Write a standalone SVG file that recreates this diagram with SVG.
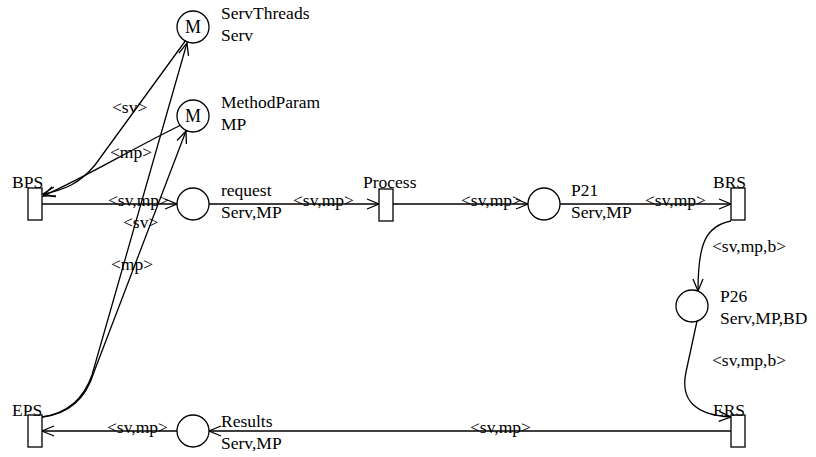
<svg xmlns="http://www.w3.org/2000/svg" width="816" height="457" viewBox="0 0 816 457">
<style>
text{font-family:"Liberation Serif","Times New Roman",serif;font-size:17.5px;fill:#000}
.m{text-anchor:middle;font-size:18px}
circle,rect{fill:#fff;stroke:#000;stroke-width:1.3}
.c path{fill:none;stroke:#000;stroke-width:1.3;marker-end:url(#a)}
</style>
<defs>
<marker id="a" markerWidth="14" markerHeight="12" refX="13" refY="6" orient="auto" markerUnits="userSpaceOnUse">
<path d="M1,1 L13,6 L1,11" fill="none" stroke="#000" stroke-width="1.3"/>
</marker>
</defs>
<rect width="816" height="457" style="stroke:none"/>
<g id="connectors" class="c">
<path d="M42 204 L177 204"/>
<path d="M209 204 L379 204"/>
<path d="M393 204 L528 204"/>
<path d="M560 204 L731 204"/>
<path d="M731 221 C705 226 698 245 698 291"/>
<path d="M697 321 L686 372 C680 400 695 415 731 417"/>
<path d="M731 431 L209 431"/>
<path d="M177 431 L42 431"/>
<path d="M186 40 L95 165 C80 183 65 190 43 194"/>
<path d="M181 125 C130 150 80 180 43 196"/>
<path d="M42 417 C70 413 85 395 92 375 L187 43"/>
<path d="M42 417 C70 414 86 398 94 372 L186 131"/>
</g>
<g id="labels">
<text x="108" y="206">&lt;sv,mp&gt;</text>
<text x="293" y="206">&lt;sv,mp&gt;</text>
<text x="461" y="206">&lt;sv,mp&gt;</text>
<text x="645" y="206">&lt;sv,mp&gt;</text>
<text x="107" y="433">&lt;sv,mp&gt;</text>
<text x="470" y="433">&lt;sv,mp&gt;</text>
<text x="712" y="252">&lt;sv,mp,b&gt;</text>
<text x="712" y="366">&lt;sv,mp,b&gt;</text>
<text x="112" y="113">&lt;sv&gt;</text>
<text x="110" y="158">&lt;mp&gt;</text>
<text x="123" y="228">&lt;sv&gt;</text>
<text x="111" y="270">&lt;mp&gt;</text>
</g>
<g id="ServThreads"><circle cx="193" cy="27" r="16"/><text class="m" x="193" y="33">M</text><text x="221" y="19">ServThreads</text><text x="221" y="41">Serv</text></g>
<g id="MethodParam"><circle cx="193" cy="116" r="16"/><text class="m" x="193" y="122">M</text><text x="221" y="108">MethodParam</text><text x="221" y="130">MP</text></g>
<g id="request"><circle cx="193" cy="204" r="16"/><text x="221" y="196">request</text><text x="221" y="218">Serv,MP</text></g>
<g id="P21"><circle cx="544" cy="204" r="16"/><text x="571" y="196">P21</text><text x="571" y="218">Serv,MP</text></g>
<g id="P26"><circle cx="692" cy="306" r="16"/><text x="720" y="302">P26</text><text x="720" y="324">Serv,MP,BD</text></g>
<g id="Results"><circle cx="193" cy="431" r="16"/><text x="221" y="427">Results</text><text x="221" y="449">Serv,MP</text></g>
<g id="BPS"><rect x="28" y="188" width="14" height="32"/><text x="12" y="188">BPS</text></g>
<g id="EPS"><rect x="28" y="415" width="14" height="32"/><text x="12" y="416">EPS</text></g>
<g id="Process"><rect x="379" y="189" width="14" height="32"/><text x="363" y="188">Process</text></g>
<g id="BRS"><rect x="731" y="188" width="14" height="32"/><text x="713" y="188">BRS</text></g>
<g id="ERS"><rect x="731" y="415" width="14" height="32"/><text x="713" y="416">ERS</text></g>
</svg>
